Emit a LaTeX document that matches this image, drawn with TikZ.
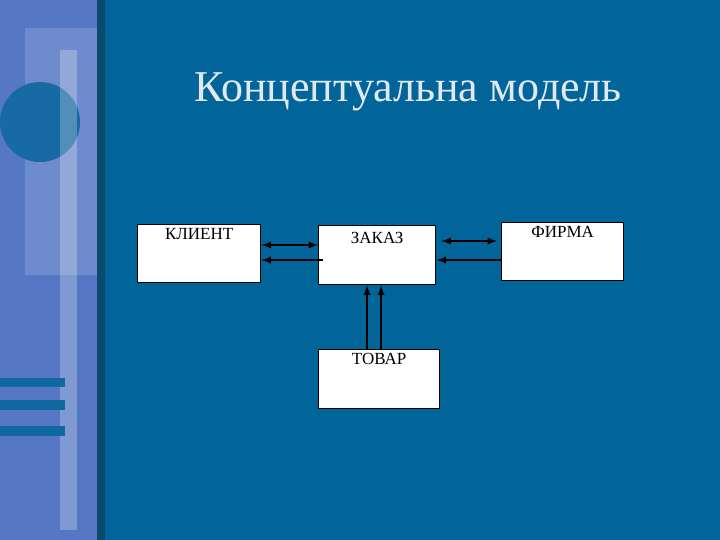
\documentclass[tikz,border=0pt]{standalone}
\usepackage{fontspec}
\setmainfont{Liberation Serif}
\begin{document}
\begin{tikzpicture}[x=1pt,y=-1pt,
 box/.style={draw=black,line width=1.4pt,fill=white,anchor=north west,inner sep=0pt},
 lbl/.style={font=\fontsize{17}{19}\selectfont,text=black,anchor=north},
 con/.style={line width=2.2pt,-latex}]
\definecolor{bg}{HTML}{02659A}
\definecolor{strip}{HTML}{5577C4}
\definecolor{edge}{HTML}{0A4A6E}
\definecolor{ttl}{HTML}{E1E8F0}
\fill[bg] (0,0) rectangle (720,540);
\useasboundingbox (0,0) rectangle (720,540);
\fill[strip] (0,0) rectangle (97,540);
\fill[strip!85!white] (25,28) rectangle (97,275);
\fill[bg!75!strip] (40,122) circle (40);
\fill[white,opacity=0.25] (60,50) rectangle (77,530);
\fill[bg!85!strip] (0,378) rectangle (65,387);
\fill[bg!85!strip] (0,400) rectangle (65,410);
\fill[bg!85!strip] (0,426) rectangle (65,436);
\fill[edge] (97,0) rectangle (105,540);
\node[text=ttl,font=\fontsize{44}{48}\selectfont] (title) at (408,92) {Концептуальна модель};
\node[box,minimum width=123,minimum height=58] (k) at (137,224) {};
\node[lbl] at (k.north) [yshift=-1] {КЛИЕНТ};
\node[box,minimum width=117,minimum height=59] (z) at (318,225) {};
\node[lbl] at (z.north) [yshift=-4] {ЗАКАЗ};
\node[box,minimum width=122,minimum height=58] (f) at (501,222) {};
\node[lbl] at (f.north) [yshift=-1] {ФИРМА};
\node[box,minimum width=121,minimum height=59] (t) at (318,349) {};
\node[lbl] at (t.north) [yshift=-1] {ТОВАР};
\draw[con,latex-latex] ([yshift=-20]z.north west) -- (k.east|-0,245);
\draw[con] ([xshift=5,yshift=-35]z.north west) -- (k.east|-0,260);
\draw[con,latex-latex] (z.east|-0,241) ++(5,0) -- ([xshift=-4,yshift=-19]f.north west);
\draw[con] ([yshift=-38]f.north west) -- (z.east|-0,260);
\draw[con] ([xshift=49]t.north west) -- ([xshift=49]z.south west);
\draw[con] ([xshift=63]t.north west) -- ([xshift=63]z.south west);
\end{tikzpicture}
\end{document}
